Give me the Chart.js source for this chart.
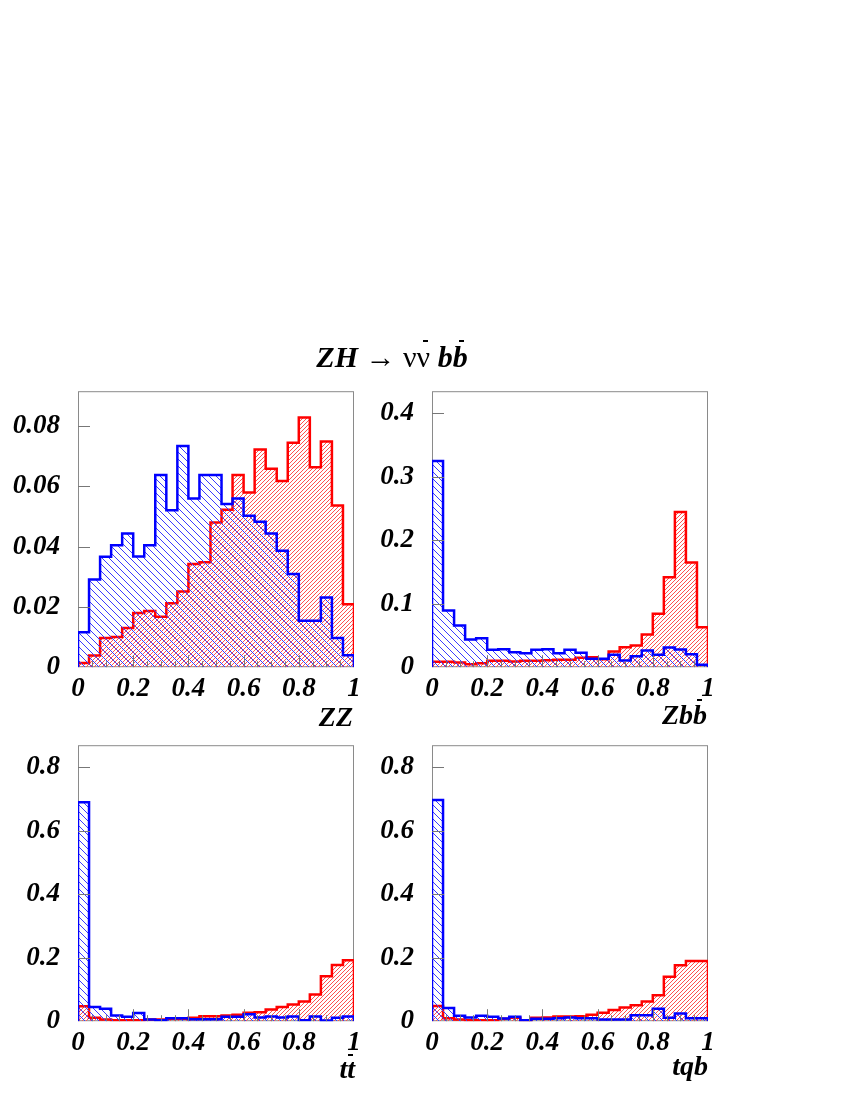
<!DOCTYPE html>
<html lang="en">
  <head>
    <meta charset="UTF-8" />
    <title>ZH → νν̄ bb̄</title>
    <script src="https://cdn.jsdelivr.net/npm/chart.js"></script>
    <style>
      html,
      body {
        margin: 0;
        padding: 0;
        width: 850px;
        height: 1100px;
        overflow: hidden;
        background: #fff;
      }
      .panel {
        position: absolute;
        z-index: 1;
      }
      .panel canvas {
        display: block;
      }
      .txt {
        position: absolute;
        z-index: 5;
        font-family: "Liberation Serif", "DejaVu Serif", serif;
        font-weight: bold;
        font-style: italic;
        color: #000;
        white-space: nowrap;
        line-height: 1;
      }
      .rm {
        font-weight: normal;
        font-style: normal;
      }
      /* anti-particle bars */
      .ovl {
        position: absolute;
        z-index: 6;
        height: 2px;
        background: #000;
      }
    </style>
  </head>
  <body>
    <div class="txt" id="title" style="font-size: 30px; left: 392px; top: 342px; transform: translateX(-50%)">
      ZH <span class="rm">→ νν</span> bb
    </div>
    <div class="ovl" style="left: 423px; top: 340px; width: 5px"></div>
    <div class="ovl" style="left: 459px; top: 340px; width: 5px"></div>

    <div class="txt" style="font-size: 28px; right: 497px; top: 703px">ZZ</div>
    <div class="txt" style="font-size: 28px; right: 143px; top: 701px">Zbb</div>
    <div class="ovl" style="left: 697px; top: 699px; width: 5px"></div>
    <div class="txt" style="font-size: 28px; right: 495px; top: 1055px">tt</div>
    <div class="ovl" style="left: 348px; top: 1054px; width: 5px"></div>
    <div class="txt" style="font-size: 28px; right: 142px; top: 1052px">tqb</div>

    <div class="panel" id="p0"><canvas id="c0"></canvas></div>
    <div class="panel" id="p1"><canvas id="c1"></canvas></div>
    <div class="panel" id="p2"><canvas id="c2"></canvas></div>
    <div class="panel" id="p3"><canvas id="c3"></canvas></div>

    <script>
      // bin low edges (25 bins, width 0.04)
      const binLow = [
        0.0, 0.04, 0.08, 0.12, 0.16, 0.2, 0.24, 0.28, 0.32, 0.36, 0.4, 0.44,
        0.48, 0.52, 0.56, 0.6, 0.64, 0.68, 0.72, 0.76, 0.8, 0.84, 0.88, 0.92,
        0.96,
      ];
      const binHigh = 1.0;

      const xTicks = [0, 0.2, 0.4, 0.6, 0.8, 1];
      const xTickLabels = ["0", "0.2", "0.4", "0.6", "0.8", "1"];

      const yTicksZZ = [0, 0.02, 0.04, 0.06, 0.08];
      const yTickLabelsZZ = ["0", "0.02", "0.04", "0.06", "0.08"];
      const yTicksZbb = [0, 0.1, 0.2, 0.3, 0.4];
      const yTickLabelsZbb = ["0", "0.1", "0.2", "0.3", "0.4"];
      const yTicksLow = [0, 0.2, 0.4, 0.6, 0.8];
      const yTickLabelsLow = ["0", "0.2", "0.4", "0.6", "0.8"];

      const yMaxZZ = 0.0915;
      const yMaxZbb = 0.435;
      const yMaxTT = 0.87;
      const yMaxTqb = 0.87;

      // red = ZH signal, blue = background
      const sigZZ = [
        0.0014, 0.0039, 0.0097, 0.01, 0.013, 0.018, 0.0186, 0.0167, 0.0212,
        0.0251, 0.0342, 0.0348, 0.048, 0.0522, 0.0637, 0.0579, 0.0722, 0.0658,
        0.0617, 0.0744, 0.0828, 0.0663, 0.0748, 0.0536, 0.0209,
      ];
      const bkgZZ = [
        0.0116, 0.0291, 0.0366, 0.0404, 0.0443, 0.0367, 0.0404, 0.0637, 0.052,
        0.0733, 0.0559, 0.0637, 0.0637, 0.0541, 0.0559, 0.0502, 0.0482, 0.0443,
        0.0386, 0.0309, 0.0154, 0.0154, 0.0231, 0.0097, 0.004,
      ];

      const sigZbb = [
        0.0084, 0.0084, 0.0074, 0.0047, 0.0063, 0.01, 0.01, 0.009, 0.01, 0.01,
        0.011, 0.0116, 0.0116, 0.0147, 0.0158, 0.0126, 0.0247, 0.0316, 0.0342,
        0.0516, 0.0842, 0.1416, 0.2447, 0.165, 0.063,
      ];
      const bkgZbb = [
        0.325, 0.0895, 0.0658, 0.0437, 0.0458, 0.0274, 0.0284, 0.0237, 0.0221,
        0.0274, 0.0284, 0.0221, 0.0274, 0.0226, 0.0132, 0.0132, 0.0195, 0.0105,
        0.0174, 0.0263, 0.0195, 0.031, 0.0279, 0.0205, 0.0037,
      ];

      const sigTT = [
        0.047, 0.0105, 0.005, 0.003, 0.003, 0.003, 0.005, 0.005, 0.0074,
        0.0074, 0.0105, 0.0158, 0.0158, 0.018, 0.02, 0.027, 0.028, 0.037,
        0.045, 0.053, 0.062, 0.084, 0.142, 0.177, 0.192,
      ];
      const bkgTT = [
        0.69, 0.045, 0.039, 0.018, 0.0137, 0.026, 0.005, 0.003, 0.0095, 0.0095,
        0.006, 0.006, 0.006, 0.0137, 0.0137, 0.022, 0.0116, 0.015, 0.0116,
        0.015, 0.003, 0.015, 0.002, 0.0105, 0.015,
      ];

      const sigTqb = [
        0.048, 0.0095, 0.005, 0.003, 0.003, 0.003, 0.0074, 0.0105, 0.003,
        0.0105, 0.0116, 0.0147, 0.0147, 0.0158, 0.02, 0.027, 0.035, 0.043,
        0.0505, 0.062, 0.082, 0.14, 0.176, 0.19, 0.19,
      ];
      const bkgTqb = [
        0.697, 0.042, 0.0168, 0.0116, 0.0168, 0.0137, 0.0084, 0.0137, 0.003,
        0.0074, 0.0074, 0.0095, 0.0116, 0.0095, 0.0095, 0.005, 0.005, 0.005,
        0.019, 0.019, 0.039, 0.0105, 0.024, 0.0095, 0.0095,
      ];

      // layout of the four frames (pixels)
      const Y_AXIS_W = 78;
      const PAD_T = 20;
      const PAD_R = 16;
      const X_AXIS_H = 40;
      const FRAME = 276;
      const frames = [
        { left: 78, top: 391 },
        { left: 432, top: 391 },
        { left: 78, top: 745 },
        { left: 432, top: 745 },
      ];

      const tickFont = {
        family: "'Liberation Serif', 'DejaVu Serif', serif",
        size: 27,
        weight: "bold",
        style: "italic",
      };

      function hatch(color, size, dir) {
        const c = document.createElement("canvas");
        c.width = size;
        c.height = size;
        const g = c.getContext("2d");
        g.strokeStyle = color;
        g.lineWidth = 1;
        g.beginPath();
        if (dir === "\\") {
          g.moveTo(-1, -1);
          g.lineTo(size + 1, size + 1);
          g.moveTo(-2, size - 2);
          g.lineTo(2, size + 2);
          g.moveTo(size - 2, -2);
          g.lineTo(size + 2, 2);
        } else {
          g.moveTo(-1, size + 1);
          g.lineTo(size + 1, -1);
          g.moveTo(-2, 2);
          g.lineTo(2, -2);
          g.moveTo(size - 2, size + 2);
          g.lineTo(size + 2, size - 2);
        }
        g.stroke();
        return g.createPattern(c, "repeat");
      }

      // step outline: start and end on the baseline
      function histPoints(vals) {
        const pts = [{ x: binLow[0], y: 0 }];
        vals.forEach((v, i) => pts.push({ x: binLow[i], y: v }));
        pts.push({ x: binHigh, y: vals[vals.length - 1] });
        pts.push({ x: binHigh, y: 0 });
        return pts;
      }

      const framePlugin = {
        id: "rootFrame",
        beforeDatasetsDraw(chart) {
          const a = chart.chartArea;
          const ctx = chart.ctx;
          ctx.save();
          ctx.strokeStyle = "#8a8a8a";
          ctx.lineWidth = 1;
          ctx.strokeRect(a.left + 0.5, a.top + 0.5, a.right - a.left - 1, a.bottom - a.top - 1);
          ctx.restore();
        },
        afterDatasetsDraw(chart) {
          const a = chart.chartArea;
          const ctx = chart.ctx;
          const xs = chart.scales.x;
          const ys = chart.scales.y;
          ctx.save();
          ctx.strokeStyle = "#777";
          ctx.lineWidth = 1;
          ctx.beginPath();
          ys.ticks.forEach((t) => {
            if (t.value === 0) return;
            const y = Math.round(ys.getPixelForValue(t.value)) + 0.5;
            ctx.moveTo(a.left, y);
            ctx.lineTo(a.left + 12, y);
          });
          for (let k = 1; k < 20; k++) {
            const v = k * 0.05;
            const x = Math.round(xs.getPixelForValue(v)) + 0.5;
            const len = k % 4 === 0 ? 12 : 6;
            ctx.moveTo(x, a.bottom);
            ctx.lineTo(x, a.bottom - len);
          }
          ctx.stroke();
          ctx.restore();
        },
      };

      function makeChart(idx, sig, bkg, yMax, yTicks, yLabels) {
        const f = frames[idx];
        const box = document.getElementById("p" + idx);
        const cv = document.getElementById("c" + idx);
        let w = Y_AXIS_W + FRAME + PAD_R;
        let h = PAD_T + FRAME + X_AXIS_H;
        cv.width = w;
        cv.height = h;

        const chart = new Chart(cv, {
          type: "line",
          data: {
            datasets: [
              {
                data: histPoints(bkg),
                borderColor: "#0000ff",
                borderWidth: 2.5,
                backgroundColor: hatch("#3b3bff", 7, "\\"),
                fill: "origin",
                stepped: "before",
                pointRadius: 0,
              },
              {
                data: histPoints(sig),
                borderColor: "#ff0000",
                borderWidth: 2.5,
                backgroundColor: hatch("#ff5050", 4, "/"),
                fill: "origin",
                stepped: "before",
                pointRadius: 0,
              },
            ],
          },
          options: {
            responsive: false,
            maintainAspectRatio: false,
            animation: false,
            layout: { padding: { top: PAD_T, right: PAD_R, left: 0, bottom: 0 } },
            plugins: {
              legend: { display: false },
              tooltip: { enabled: false },
            },
            scales: {
              x: {
                type: "linear",
                min: 0,
                max: 1,
                grid: { display: false },
                border: { display: false },
                afterBuildTicks: (s) => {
                  s.ticks = xTicks.map((v) => ({ value: v }));
                },
                ticks: {
                  font: tickFont,
                  color: "#000",
                  padding: -2,
                  maxRotation: 0,
                  autoSkip: false,
                  callback: (v, i) => xTickLabels[i],
                },
                afterFit: (s) => {
                  s.height = X_AXIS_H;
                },
              },
              y: {
                type: "linear",
                min: 0,
                max: yMax,
                grid: { display: false },
                border: { display: false },
                afterBuildTicks: (s) => {
                  s.ticks = yTicks.map((v) => ({ value: v }));
                },
                ticks: {
                  font: tickFont,
                  color: "#000",
                  padding: 10,
                  autoSkip: false,
                  callback: (v, i) => yLabels[i],
                },
                afterFit: (s) => {
                  s.width = Y_AXIS_W;
                },
              },
            },
          },
          plugins: [framePlugin],
        });

        // grow/shrink the canvas so the frame is FRAME x FRAME
        const a0 = chart.chartArea;
        w += FRAME - (a0.right - a0.left);
        h += FRAME - (a0.bottom - a0.top);
        chart.resize(w, h);
        const a = chart.chartArea;
        box.style.left = f.left - a.left + "px";
        box.style.top = f.top - a.top + "px";
        return chart;
      }

      makeChart(0, sigZZ, bkgZZ, yMaxZZ, yTicksZZ, yTickLabelsZZ);
      makeChart(1, sigZbb, bkgZbb, yMaxZbb, yTicksZbb, yTickLabelsZbb);
      makeChart(2, sigTT, bkgTT, yMaxTT, yTicksLow, yTickLabelsLow);
      makeChart(3, sigTqb, bkgTqb, yMaxTqb, yTicksLow, yTickLabelsLow);
    </script>
  </body>
</html>
